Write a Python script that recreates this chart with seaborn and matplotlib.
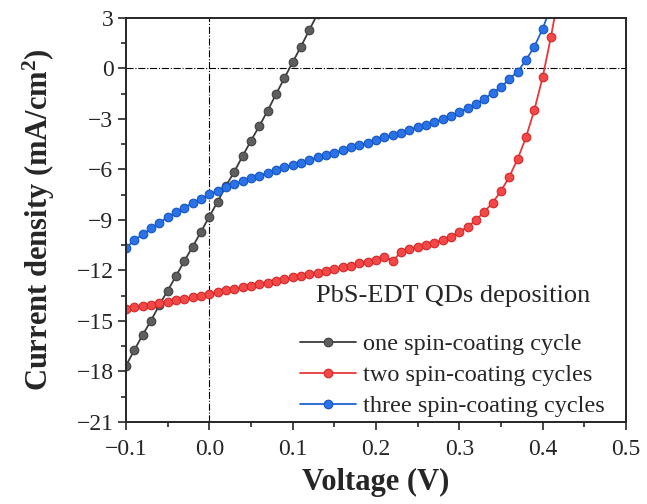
import numpy as np
import pandas as pd
import matplotlib
matplotlib.use("Agg")
import matplotlib.pyplot as plt
from matplotlib.ticker import MultipleLocator
import seaborn as sns

# ─── DATA ─────────────────────────────────────────────────────
v_one = [-0.10, -0.09, -0.08, -0.07, -0.06, -0.05, -0.04, -0.03, -0.02, -0.01,
         0.00, 0.01, 0.02, 0.03, 0.04, 0.05, 0.06, 0.07, 0.08, 0.09,
         0.10, 0.11, 0.12, 0.13]
j_one = [-17.66, -16.73, -15.83, -14.98, -14.05, -13.20, -12.33, -11.44, -10.59, -9.70,
         -8.80, -7.91, -6.98, -6.13, -5.20, -4.29, -3.42, -2.51, -1.53, -0.58,
         0.37, 1.30, 2.29, 3.25]

v_two = [-0.10, -0.09, -0.08, -0.07, -0.06, -0.05, -0.04, -0.03, -0.02, -0.01,
         0.00, 0.01, 0.02, 0.03, 0.04, 0.05, 0.06, 0.07, 0.08, 0.09,
         0.10, 0.11, 0.12, 0.13, 0.14, 0.15, 0.16, 0.17, 0.18, 0.19,
         0.20, 0.21, 0.22, 0.23, 0.24, 0.25, 0.26, 0.27, 0.28, 0.29,
         0.30, 0.31, 0.32, 0.33, 0.34, 0.35, 0.36, 0.37, 0.38, 0.39,
         0.40, 0.41, 0.42]
j_two = [-14.31, -14.19, -14.11, -14.03, -13.95, -13.86, -13.76, -13.68, -13.60, -13.50,
         -13.42, -13.30, -13.18, -13.08, -13.00, -12.91, -12.81, -12.73, -12.63, -12.53,
         -12.41, -12.33, -12.23, -12.13, -12.03, -11.91, -11.81, -11.72, -11.58, -11.48,
         -11.38, -11.20, -11.42, -10.92, -10.72, -10.59, -10.49, -10.35, -10.19, -10.00,
         -9.70, -9.40, -9.00, -8.51, -7.97, -7.28, -6.43, -5.38, -4.09, -2.47,
         -0.52, 1.89, 4.60]

v_three = [-0.10, -0.09, -0.08, -0.07, -0.06, -0.05, -0.04, -0.03, -0.02, -0.01,
           0.00, 0.01, 0.02, 0.03, 0.04, 0.05, 0.06, 0.07, 0.08, 0.09,
           0.10, 0.11, 0.12, 0.13, 0.14, 0.15, 0.16, 0.17, 0.18, 0.19,
           0.20, 0.21, 0.22, 0.23, 0.24, 0.25, 0.26, 0.27, 0.28, 0.29,
           0.30, 0.31, 0.32, 0.33, 0.34, 0.35, 0.36, 0.37, 0.38, 0.39,
           0.40, 0.41]
j_three = [-10.65, -10.21, -9.85, -9.50, -9.16, -8.84, -8.55, -8.26, -8.00, -7.78,
           -7.47, -7.26, -7.02, -6.86, -6.69, -6.53, -6.37, -6.19, -6.03, -5.87,
           -5.73, -5.60, -5.44, -5.28, -5.14, -5.00, -4.84, -4.68, -4.55, -4.41,
           -4.25, -4.09, -3.95, -3.82, -3.65, -3.49, -3.36, -3.20, -3.00, -2.80,
           -2.60, -2.33, -2.11, -1.81, -1.44, -1.12, -0.62, -0.19, 0.50, 1.30,
           2.35, 3.70]

labels = ["one spin-coating cycle", "two spin-coating cycles", "three spin-coating cycles"]
line_colors = ["#3c3c3c", "#e8383a", "#1f62d2"]
face_colors = ["#5e5e5e", "#f24848", "#2a72e6"]
edge_colors = ["#404040", "#d42828", "#1656c2"]

# ─── STYLE ────────────────────────────────────────────────────
sns.set_style("ticks")
plt.rcParams["font.family"] = ["Liberation Serif", "DejaVu Serif"]
plt.rcParams["mathtext.fontset"] = "custom"
plt.rcParams["mathtext.rm"] = "Liberation Serif"
plt.rcParams["mathtext.bf"] = "Liberation Serif:bold"

fig = plt.figure(figsize=(6.47, 5.04), dpi=100)
ax = fig.add_axes([0.1947, 0.1627, 0.7728, 0.8016])

series = [(v_one, j_one), (v_two, j_two), (v_three, j_three)]
for (v, j), lab, lc, fc, ec in zip(series, labels, line_colors, face_colors, edge_colors):
    d = pd.DataFrame({"V": v, "J": j})
    sns.lineplot(data=d, x="V", y="J", ax=ax, sort=False, color=lc, linewidth=1.3,
                 marker="o", markersize=6.2, markerfacecolor=fc, markeredgecolor=ec,
                 markeredgewidth=0.8, label=lab)

ax.axhline(0, color="black", linestyle="-.", linewidth=0.8, zorder=0)
ax.axvline(0, color="black", linestyle="-.", linewidth=0.8, zorder=0)

ax.set_xlim(-0.1, 0.5)
ax.set_ylim(-21, 3)
ax.xaxis.set_minor_locator(MultipleLocator(0.05))
ax.yaxis.set_major_locator(MultipleLocator(3))
ax.yaxis.set_minor_locator(MultipleLocator(1.5))
xt = np.arange(-0.1, 0.51, 0.1)
ax.set_xticks(xt)
ax.set_xticklabels([f"{t:.1f}".replace("-", "\u2212") for t in xt])

ax.tick_params(axis="both", which="major", direction="out", length=6, width=1.2,
               labelsize=17, top=False, right=False)
ax.tick_params(axis="x", which="major", pad=6)
ax.tick_params(axis="y", which="major", pad=3)
ax.tick_params(axis="both", which="minor", direction="out", length=3.5, width=1.2,
               top=False, right=False)
for sp in ax.spines.values():
    sp.set_linewidth(1.4)
    sp.set_visible(True)

ax.set_xlabel("Voltage (V)", fontsize=22, fontweight="bold", labelpad=6)
ax.set_ylabel(r"Current density (mA/cm$\mathbf{^2}$)", fontsize=22, fontweight="bold", labelpad=14)

leg = ax.legend(loc="lower right", bbox_to_anchor=(0.968, 0.0), frameon=False, fontsize=17.5,
                title="PbS-EDT QDs deposition", title_fontsize=19,
                handlelength=2.3, handletextpad=0.3, labelspacing=0.37,
                borderaxespad=0.0, borderpad=0.2)
leg._legend_box.sep = 19

fig.savefig("out.png", dpi=100)
